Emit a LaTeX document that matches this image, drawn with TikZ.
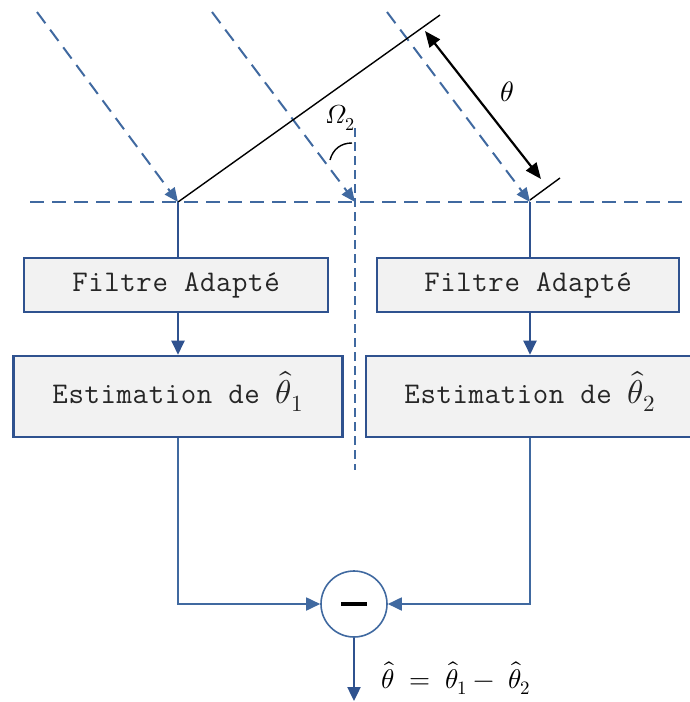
\documentclass[tikz,border=0pt]{standalone}
\usepackage{fontspec}
\usepackage{unicode-math}
\setmathfont{Latin Modern Math}
\newfontfamily\courfont[LetterSpace=2]{Latin Modern Mono}
\usetikzlibrary{arrows.meta}
\definecolor{dblue}{HTML}{2F528F}
\definecolor{rblue}{HTML}{4069A0}
\definecolor{boxfill}{HTML}{F2F2F2}
\begin{document}
\begin{tikzpicture}[x=1pt,y=-1pt,
  ray/.style={rblue,line width=2pt,dash pattern=on 14pt off 8pt},
  rayarr/.style={ray,-{Triangle[length=14pt,width=12pt]}},
  blockbox/.style={draw=dblue,line width=2.6pt,fill=boxfill,inner sep=0pt,
     font=\fontsize{30}{34}\selectfont\courfont,text=black!85},
  thick link/.style={dblue,line width=2.4pt},
  thin link/.style={rblue,line width=1.8pt},
  tip/.style={-{Triangle[length=14pt,width=13pt]}},
  blk/.style={black,line width=1.4pt}]
\useasboundingbox (0,0) rectangle (690,702);

% rays and wavefront
\coordinate (r1s) at (37,12);
\coordinate (r2s) at (212,12);
\coordinate (r3s) at (387,12);
\coordinate (p1) at (178,202);
\coordinate (p2) at (355,202);
\coordinate (p3) at (530,202);
\coordinate (hl) at (30,202);
\coordinate (hr) at (690,202);
\coordinate (w) at (440,15);
\coordinate (t1) at (530,200);
\coordinate (t2) at (560,178);
\coordinate (a1) at (425,31);
\coordinate (a2) at (541,179);
\coordinate (v1) at (355,128);
\coordinate (v2) at (355,470);

\draw[ray] (hl) -- (hr);
\draw[rblue,line width=1.5pt,dash pattern=on 9pt off 5pt] (v1) -- (v2);
\draw[rayarr] (r1s) -- (p1);
\draw[rayarr] (r2s) -- (p2);
\draw[rayarr] (r3s) -- (p3);
\draw[blk] (p1) -- (w);
\draw[blk] (t1) -- (t2);
\draw[black,line width=2.2pt,{Triangle[length=16pt,width=13pt]}-{Triangle[length=16pt,width=13pt]}] (a1) -- (a2);
\node (theta) at (507,92) {\fontsize{28}{32}\selectfont$\theta$};
\node (omega) at (340,118) {\fontsize{26}{30}\selectfont$\symit{\Omega}_2$};
\draw[blk] (330,160) .. controls (333,149) and (341,143) .. (352,143);

% blocks
\node[blockbox,minimum width=304pt,minimum height=54pt] (fa1) at (176,285) {Filtre Adapté};
\node[blockbox,minimum width=302pt,minimum height=54pt] (fa2) at (528,285) {Filtre Adapté};
\node[blockbox,minimum width=329pt,minimum height=81pt,text depth=18pt] (es1) at (178,396.5)
  {Estimation de {\fontsize{33}{36}\selectfont$\hat{\theta}_1$}};
\node[blockbox,minimum width=328pt,minimum height=81pt,text depth=18pt] (es2) at (530,396.5)
  {Estimation de {\fontsize{33}{36}\selectfont$\hat{\theta}_2$}};

\node[circle,draw=rblue,line width=1.6pt,fill=white,minimum size=66pt,inner sep=0pt] (minus) at (354,604)
  {\rule{26pt}{3.2pt}};
\coordinate (out) at (354,701);

\draw[thick link] (p1) -- (p1 |- fa1.north);
\draw[thick link] (p3) -- (p3 |- fa2.north);
\draw[thick link,tip] (p1 |- fa1.south) -- (p1 |- es1.north);
\draw[thick link,tip] (p3 |- fa2.south) -- (p3 |- es2.north);
\draw[thin link,tip] (es1.south) |- (minus.west);
\draw[thin link,tip] (es2.south) |- (minus.east);
\draw[thick link,tip] (minus.south) -- (out);

\node (res) at (456,678) {\fontsize{27}{31}\selectfont$\hat{\theta}\;=\;\hat{\theta}_1-\;\hat{\theta}_2$};
\end{tikzpicture}
\end{document}
